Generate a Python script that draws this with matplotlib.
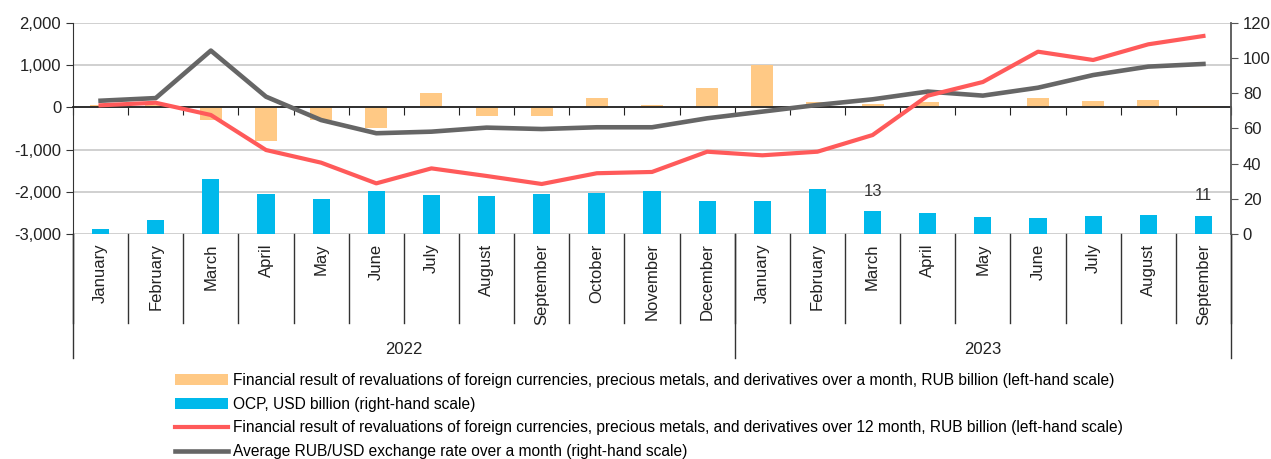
import numpy as np
import matplotlib
matplotlib.use('Agg')
import matplotlib.pyplot as plt
from matplotlib.ticker import FuncFormatter
import matplotlib.transforms as mtransforms

plt.rcParams['font.family'] = ['Liberation Sans', 'DejaVu Sans']

months = ["January", "February", "March", "April", "May", "June", "July",
          "August", "September", "October", "November", "December",
          "January", "February", "March", "April", "May", "June", "July",
          "August", "September"]
years = ["2022", "2023"]
year_len = [12, 9]

# RUB billion, left-hand scale
reval_month = [50, 60, -300, -800, -300, -500, 330, -200, -200, 220, 50, 470,
               1000, 120, 80, 120, 10, 230, 145, 170, 30]
reval_12m = [50, 110, -180, -1010, -1310, -1800, -1445, -1625, -1815, -1560,
             -1530, -1050, -1135, -1050, -655, 277, 602, 1320, 1123, 1495, 1692]
# right-hand scale
ocp = [2.6, 8.0, 31.1, 22.6, 19.7, 24.5, 22.0, 21.6, 22.8, 23.5, 24.3, 18.8,
       18.6, 25.8, 12.9, 11.8, 9.5, 9.1, 10.2, 10.6, 10.4]
ocp_labels = {14: "13", 20: "11"}
rubusd = [75.8, 77.3, 104.3, 78.1, 64.8, 57.3, 58.2, 60.5, 59.7, 60.7, 60.7,
          65.8, 69.6, 73.4, 76.6, 81.0, 78.7, 83.2, 90.4, 95.2, 96.7]

c_orange = "#FFC985"
c_blue = "#00B9EB"
c_red = "#FF5A5A"
c_gray = "#666666"

x = np.arange(len(months))

fig = plt.figure(figsize=(12.71, 4.59), dpi=100)
ax = fig.add_axes([73 / 1271, 1 - 234 / 459, 1158 / 1271, 211 / 459])
ax2 = ax.twinx()

b1 = ax.bar(x, reval_month, width=0.4, color=c_orange, zorder=2)
b2 = ax2.bar(x, ocp, width=0.31, color=c_blue, zorder=2)
l2, = ax2.plot(x, rubusd, color=c_gray, lw=3.3, zorder=3)
l1, = ax2.plot(x, reval_12m, color=c_red, lw=3.0, zorder=4,
               transform=ax.transData)

for i, t in ocp_labels.items():
    ax2.annotate(t, (x[i], ocp[i]), xytext=(0, 9), textcoords="offset points",
                 ha="center", va="bottom", fontsize=12, color="#333333")

ax.set_xlim(-0.5, len(months) - 0.5)
ax.set_ylim(-3000, 2000)
ax2.set_ylim(0, 120)
ax.set_yticks(range(-3000, 2001, 1000))
ax2.set_yticks(range(0, 121, 20))
ax.yaxis.set_major_formatter(FuncFormatter(lambda v, p: f"{v:,.0f}"))

ax.yaxis.grid(True, color="#C8C8C8", lw=1.2)
ax.set_axisbelow(True)

# x axis at zero with ticks at category borders
ax.spines['bottom'].set_position(('data', 0))
ax.spines['bottom'].set_color("#222222")
ax.spines['bottom'].set_linewidth(1.3)
ax.set_xticks(np.arange(-0.5, len(months), 1.0))
ax.tick_params(axis='x', direction='out', length=6, color="#222222",
               labelbottom=False)
for a in (ax, ax2):
    a.spines['top'].set_visible(False)
ax2.spines['bottom'].set_visible(False)
ax2.spines['left'].set_visible(False)
ax.spines['right'].set_visible(False)
ax.spines['left'].set_color("#333333")
ax2.spines['right'].set_color("#555555")
ax2.spines['right'].set_linewidth(1.3)
ax.tick_params(axis='y', length=5, color="#333333", labelsize=12,
               labelcolor="#222222")
ax2.tick_params(axis='y', length=5, color="#555555", labelsize=12,
                labelcolor="#222222")

# category axis below the plot
trans = mtransforms.blended_transform_factory(ax.transData, ax.transAxes)
for i, m in enumerate(months):
    ax.text(x[i], -0.045, m, rotation=90, ha="center", va="top",
            fontsize=12, color="#222222", transform=trans)
for b in np.arange(-0.5, len(months), 1.0):
    ax.plot([b, b], [0, -0.422], color="#333333", lw=1.0, transform=trans,
            clip_on=False)
start = -0.5
for y, n in zip(years, year_len):
    ax.plot([start, start], [0, -0.588], color="#333333", lw=1.0,
            transform=trans, clip_on=False)
    ax.text(start + n / 2, -0.548, y, ha="center", va="center", fontsize=12,
            color="#222222", transform=trans)
    start += n
ax.plot([start, start], [0, -0.588], color="#333333", lw=1.0,
        transform=trans, clip_on=False)

labels = [
    "Financial result of revaluations of foreign currencies, precious metals, and derivatives over a month, RUB billion (left-hand scale)",
    "OCP, USD billion (right-hand scale)",
    "Financial result of revaluations of foreign currencies, precious metals, and derivatives over 12 month, RUB billion (left-hand scale)",
    "Average RUB/USD exchange rate over a month (right-hand scale)",
]
fig.legend([b1, b2, l1, l2], labels, loc="upper left",
           bbox_to_anchor=(175 / 1271, 1 - 373 / 459), frameon=False,
           prop={'size': 11.2},
           handlelength=3.4, handleheight=0.7, handletextpad=0.3,
           labelspacing=0.56, borderaxespad=0, borderpad=0)

fig.savefig("out.png", dpi=100)
